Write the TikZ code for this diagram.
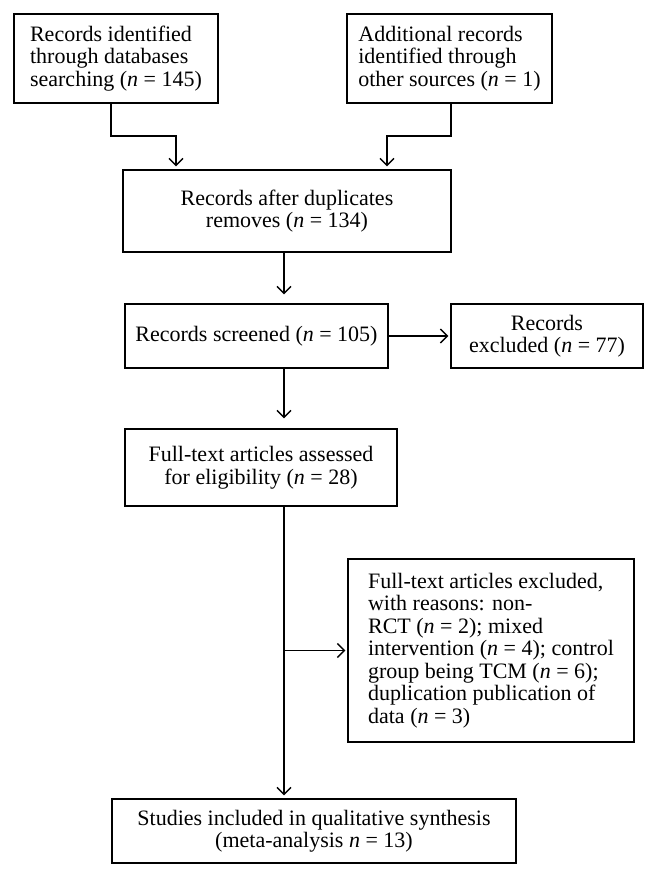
\documentclass[tikz,border=0pt]{standalone}
\usepackage{fontspec}
\setmainfont{Liberation Serif}
\usetikzlibrary{arrows.meta}
\begin{document}
\begin{tikzpicture}[x=1pt,y=-1pt,
  box/.style={draw, line width=1.4pt, inner sep=0pt, font=\fontsize{22}{22.5}\selectfont},
  arr/.style={line width=1.4pt, -{Straight Barb[length=7pt,width=14pt]}},
  ln/.style={line width=1.4pt}]
\useasboundingbox (0,0) rectangle (658,878);
\node[box, minimum width=204pt, minimum height=89pt, align=left] (B1) at (116,58.5)
  {Records identified\\through databases\\searching (\textit{n} = 145)};
\node[box, minimum width=205pt, minimum height=89pt, align=left] (B2) at (449.5,58.5)
  {Additional records\\identified through\\other sources (\textit{n} = 1)};
\node[box, minimum width=328pt, minimum height=82pt, align=center] (B3) at (287,211)
  {Records after duplicates\\removes (\textit{n} = 134)};
\node[box, minimum width=263pt, minimum height=64pt, align=center] (B4) at (256.5,336)
  {Records screened (\textit{n} = 105)};
\node[box, minimum width=192pt, minimum height=64pt, align=center] (B5) at (547,336)
  {Records\\excluded (\textit{n} = 77)};
\node[box, minimum width=272pt, minimum height=77pt, align=center] (B6) at (261,467.5)
  {Full-text articles assessed\\for eligibility (\textit{n} = 28)};
\node[box, minimum width=286pt, minimum height=183pt, align=left] (B7) at (491,650.5)
  {Full-text articles excluded,\\with reasons: non-\\RCT (\textit{n} = 2); mixed\\intervention (\textit{n} = 4); control\\group being TCM (\textit{n} = 6);\\duplication publication of\\data (\textit{n} = 3)};
\node[box, minimum width=404pt, minimum height=64pt, align=center] (B8) at (314,831)
  {Studies included in qualitative synthesis\\(meta-analysis \textit{n} = 13)};
% top merges
\coordinate (k1) at (176,136);
\coordinate (k2) at (387,136);
\draw[arr, shorten >=3pt] ([xshift=-5pt]B1.south) |- (k1) -- (k1 |- B3.north);
\draw[arr, shorten >=3pt] ([xshift=1.5pt]B2.south) |- (k2) -- (k2 |- B3.north);
% spine
\coordinate (sp) at ([xshift=-3pt]B3.south);
\draw[arr, shorten >=9pt] (sp) -- (sp |- B4.north);
\draw[arr, shorten >=2pt] (B4.east) -- (B5.west);
\draw[arr, shorten >=10pt] (sp |- B4.south) -- (sp |- B6.north);
\draw[arr, shorten >=3pt] (sp |- B6.south) -- (sp |- B8.north);
\coordinate (br) at (sp |- B7.west);
\draw[arr, shorten >=2pt] (br) -- (B7.west);
\end{tikzpicture}
\end{document}
